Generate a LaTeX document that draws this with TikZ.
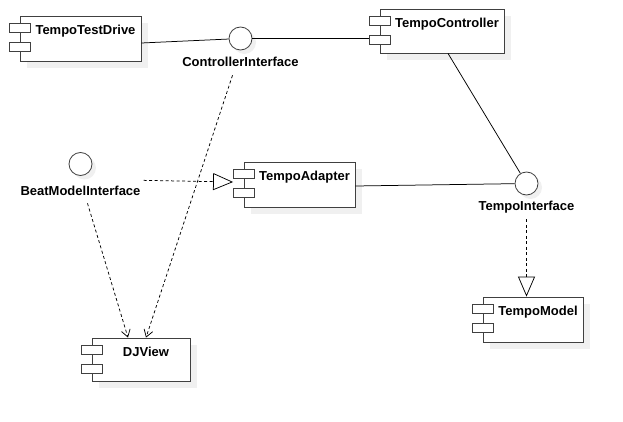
\documentclass[tikz,border=0pt]{standalone}
\usepackage{fontspec}
\setmainfont{Liberation Sans}
\usetikzlibrary{arrows.meta}
\pgfdeclarelayer{background}
\pgfsetlayers{background,main}
\tikzset{
comp/.style={draw=black!75,fill=white,line width=0.8pt,inner sep=0pt},
port/.style={draw=black!75,fill=white,line width=0.8pt},
iface/.style={circle,draw=black!75,fill=white,line width=0.8pt,minimum size=23pt,inner sep=0pt},
lbl/.style={font=\fontsize{13}{15}\selectfont\bfseries,inner sep=0pt},
shade/.style={fill=black!6},
wire/.style={line width=0.75pt},
dep/.style={wire,dash pattern=on 3pt off 2.5pt,-{Straight Barb[length=7pt,width=9pt]}},
real/.style={wire,dash pattern=on 3pt off 2.5pt,-{Triangle[open,length=20pt,width=17pt]}}
}

\begin{document}
\begin{tikzpicture}[x=1pt,y=-1pt]
\useasboundingbox (0,0) rectangle (623,422);
\foreach \n/\x/\y/\w/\h/\t in {drive/80.5/38.5/121/45/TempoTestDrive,ctrl/442/31/124/44/TempoController,adapter/299.5/184.5/111/45/TempoAdapter,model/533/319.5/100/45/TempoModel,djview/141/359.5/98/43/DJView}{
\begin{pgfonlayer}{background}
\fill[shade] ([xshift=7,yshift=-7]\x-\w/2,\y-\h/2) rectangle ([xshift=7,yshift=-7]\x+\w/2,\y+\h/2);
\end{pgfonlayer}
\node[comp,minimum width=\w,minimum height=\h] (\n) at (\x,\y) {};
\node[lbl,anchor=north] (\n-txt) at ([xshift=5,yshift=-9.5]\n.north) {\t};
\draw[port] ([xshift=-10.5,yshift=-8]\n.north west) rectangle ++(21,9);
\draw[port] ([xshift=-10.5,yshift=-27]\n.north west) rectangle ++(21,9);
}
\foreach \n/\x/\y/\b/\t in {ctrlif/240.5/38.5/67/ControllerInterface,beatif/80.5/164/195/BeatModelInterface,tempoif/526.5/183.5/210/TempoInterface}{
\begin{pgfonlayer}{background}
\fill[shade] ([xshift=4,yshift=-4]\x,\y) circle (11.5);
\end{pgfonlayer}
\node[iface] (\n) at (\x,\y) {};
\node[lbl,anchor=base] (\n-txt) at (\x,\b) {\t};
}
\draw[wire] ([yshift=-4.5]drive.east) -- (ctrlif);
\draw[wire] (ctrlif) -- ([xshift=-10.5,yshift=-7.5]ctrl.west);
\draw[wire] ([xshift=6]ctrl.south) -- (tempoif);
\draw[wire] ([yshift=-1.5]adapter.east) -- (tempoif);
\draw[real] ([yshift=-6.5]tempoif-txt.south) -- (tempoif-txt.south |- model.north);
\draw[real] ([xshift=3,yshift=10]beatif-txt.east) -- ([xshift=-10.5,yshift=2.5]adapter.west);
\draw[dep] ([xshift=7,yshift=-8]beatif-txt.south) -- ([xshift=-13]djview.north);
\draw[dep] ([xshift=-8,yshift=-8]ctrlif-txt.south) -- ([xshift=5]djview.north);
\end{tikzpicture}
\end{document}
